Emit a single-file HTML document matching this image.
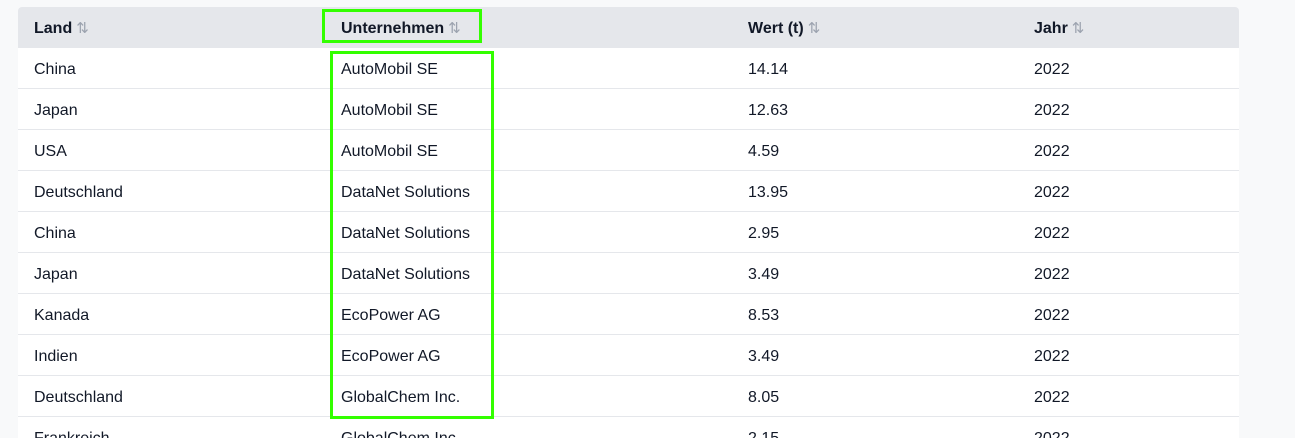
<!DOCTYPE html>
<html><head><meta charset="utf-8"><style>
html,body{margin:0;width:1295px;height:438px;overflow:hidden}
body{background:#f8f9fa;font-family:"Liberation Sans",Arial,sans-serif;position:relative}
.tbl{position:absolute;left:18px;top:7px;width:1221px;height:431px;background:#fff;border-radius:4px 4px 0 0;overflow:hidden}
.hdr{position:absolute;left:0;top:0;width:1221px;height:41px;background:#e5e7eb}
.row{position:absolute;left:0;width:1221px;height:40px;border-bottom:1px solid #e5e7eb}
.c{position:absolute;top:1px;line-height:41px;font-size:16px;color:#111827;white-space:nowrap}
.hdr .c{font-weight:bold}
.s{color:#9ca3af;font-weight:normal;font-size:15px;margin-left:4px}
.hl{position:absolute;border:3px solid #33ff00;box-sizing:border-box}
</style></head><body>
<div class="tbl">
<div class="hdr">
<div class="c" style="left:16px">Land<span class="s">⇅</span></div>
<div class="c" style="left:323px">Unternehmen<span class="s">⇅</span></div>
<div class="c" style="left:730px">Wert (t)<span class="s">⇅</span></div>
<div class="c" style="left:1016px">Jahr<span class="s">⇅</span></div>
</div>
<div id="body"></div>
</div>
<div class="hl" style="left:322px;top:9px;width:160px;height:34px"></div>
<div class="hl" style="left:330px;top:51px;width:164px;height:368px"></div>
<script>
const lands=["China","Japan","USA","Deutschland","China","Japan","Kanada","Indien","Deutschland","Frankreich"];
const firms=["AutoMobil SE","AutoMobil SE","AutoMobil SE","DataNet Solutions","DataNet Solutions","DataNet Solutions","EcoPower AG","EcoPower AG","GlobalChem Inc.","GlobalChem Inc."];
const values=["14.14","12.63","4.59","13.95","2.95","3.49","8.53","3.49","8.05","2.15"];
const years=["2022","2022","2022","2022","2022","2022","2022","2022","2022","2022"];
const body=document.getElementById('body');
lands.forEach((l,i)=>{
  const r=document.createElement('div');
  r.className='row';
  r.style.top=(41+i*41)+'px';
  
  
  [[16,l],[323,firms[i]],[730,values[i]],[1016,years[i]]].forEach(([x,t])=>{
    const c=document.createElement('div');
    c.className='c';c.style.left=x+'px';c.textContent=t;
    
    
    r.appendChild(c);
  });
  body.appendChild(r);
});
</script>
</body></html>
